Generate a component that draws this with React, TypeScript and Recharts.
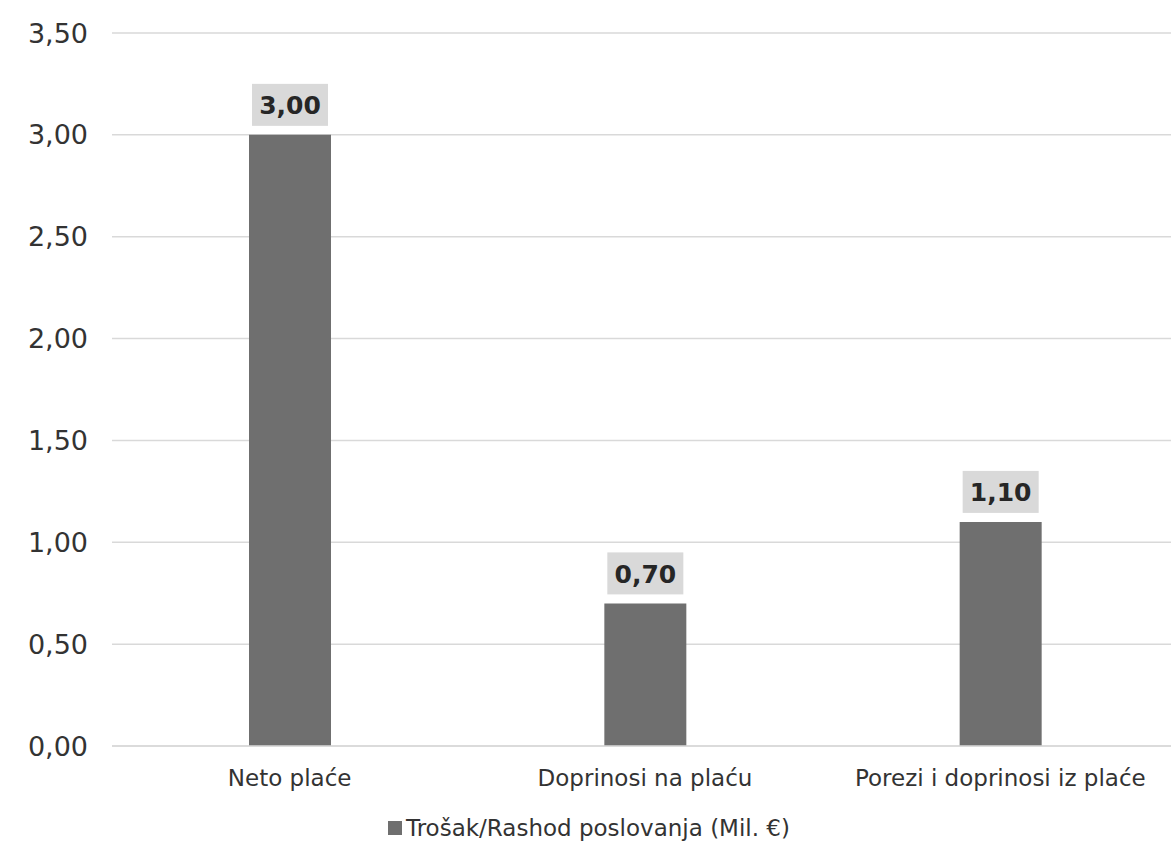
import { Bar, BarChart, CartesianGrid, LabelList, Legend, XAxis, YAxis } from 'recharts'

const categories = ['Neto plaće', 'Doprinosi na plaću', 'Porezi i doprinosi iz plaće']
const values = [3.0, 0.7, 1.1]
const yTicks = [0, 0.5, 1, 1.5, 2, 2.5, 3, 3.5]
const seriesName = 'Trošak/Rashod poslovanja (Mil. €)'

const FONT = '"DejaVu Sans", Verdana, sans-serif'
const BAR = '#6f6f6f'

const fmt = (v: number) => v.toFixed(2).replace('.', ',')

function ValueLabel(props: any) {
  const { x, y, width, value } = props
  const cx = x + width / 2
  const boxW = 76
  const boxH = 42
  const top = y - 9 - boxH
  return (
    <g>
      <rect x={cx - boxW / 2} y={top} width={boxW} height={boxH} fill="#d9d9d9" />
      <text x={cx} y={top + boxH / 2 + 1} textAnchor="middle" dominantBaseline="central" fontFamily={FONT} fontWeight="bold" fontSize={25} fill="#262626">
        {fmt(value)}
      </text>
    </g>
  )
}

function LegendBox() {
  return (
    <div style={{ display: 'flex', justifyContent: 'center', alignItems: 'center', fontFamily: FONT, fontSize: 23, color: '#333', paddingTop: 19 }}>
      <span style={{ display: 'inline-block', width: 14, height: 14, background: BAR, marginRight: 4 }} />
      {seriesName}
    </div>
  )
}

export default function App() {
  const data = categories.map((c, i) => ({ label: c, value: values[i] }))
  return (
    <div style={{ position: 'absolute', left: 0, top: 0, width: 1171, height: 853, background: '#fff' }}>
      <BarChart width={1171} height={853} data={data} margin={{ top: 33, right: -7, left: 0, bottom: 0 }}>
        <CartesianGrid vertical={false} stroke="#d9d9d9" strokeWidth={1.5} />
        <XAxis
          dataKey="label"
          axisLine={{ stroke: '#d9d9d9', strokeWidth: 1.5 }}
          tickLine={false}
          tickSize={0}
          tickMargin={24}
          height={50}
          tick={{ fontFamily: FONT, fontSize: 23, fill: '#333' }}
        />
        <YAxis
          domain={[0, 3.5]}
          ticks={yTicks}
          tickFormatter={fmt}
          axisLine={false}
          tickLine={false}
          tickSize={0}
          tickMargin={24}
          width={112}
          tick={{ fontFamily: FONT, fontSize: 27, fill: '#333' }}
        />
        <Legend verticalAlign="bottom" height={57} content={<LegendBox />} />
        <Bar dataKey="value" name={seriesName} fill={BAR} barSize={82} isAnimationActive={false}>
          <LabelList dataKey="value" content={<ValueLabel />} />
        </Bar>
      </BarChart>
    </div>
  )
}
